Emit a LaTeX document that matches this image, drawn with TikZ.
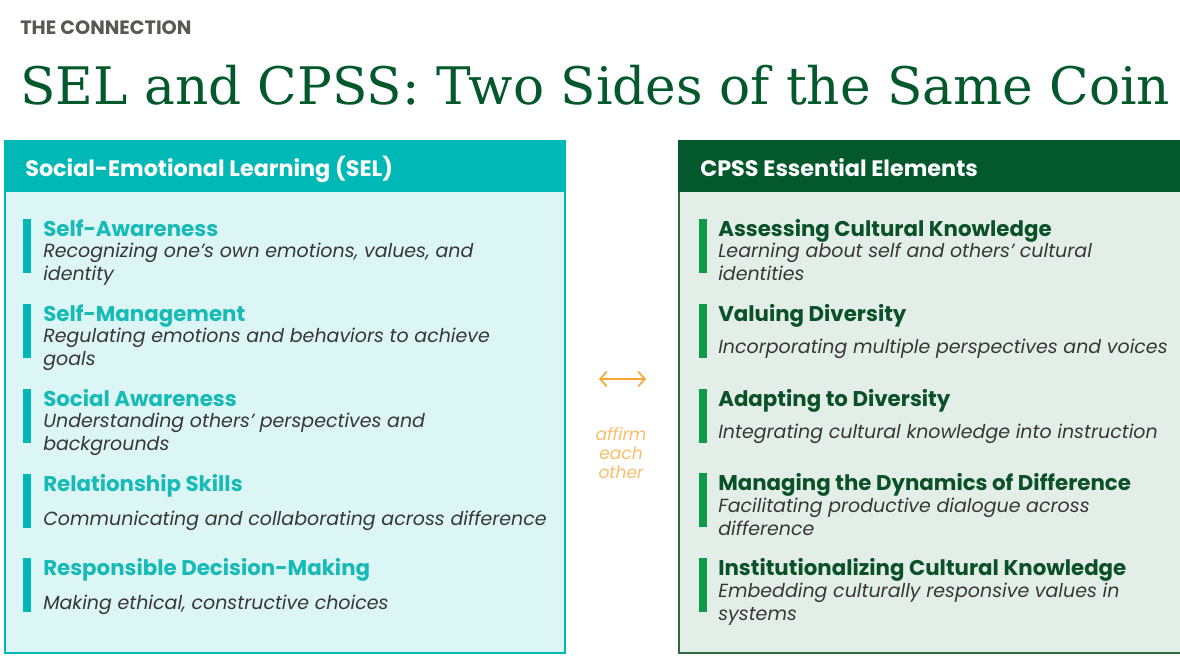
\documentclass[tikz,border=0pt]{standalone}
\usepackage{fontspec}
\setmainfont{Poppins}
\newfontfamily\headfont{DejaVu Serif}
\usetikzlibrary{arrows.meta}

\definecolor{selteal}{RGB}{0,184,181}
\definecolor{selbody}{RGB}{220,245,245}
\definecolor{seltext}{RGB}{22,186,182}
\definecolor{cpssdark}{RGB}{3,89,43}
\definecolor{cpssbody}{RGB}{228,238,232}
\definecolor{cpssline}{RGB}{46,107,67}
\definecolor{cpssbar}{RGB}{14,154,72}
\definecolor{cpsstext}{RGB}{11,81,40}
\definecolor{descgray}{RGB}{55,55,55}
\definecolor{kicker}{RGB}{90,88,84}
\definecolor{affirm}{RGB}{247,165,53}
\definecolor{affirmtext}{RGB}{250,190,105}

\newcommand{\apos}{\char"27}

\begin{document}
\begin{tikzpicture}[
        x=0.75pt, y=-0.75pt,
        panelhead/.style={
          anchor=base west,
          inner sep=0pt,
          text=white,
          font=\bfseries\fontsize{16.75}{20}\selectfont
        },
        seltitle/.style={
          anchor=base west,
          inner sep=0pt,
          text=seltext,
          font=\bfseries\fontsize{16}{19}\selectfont
        },
        cpsstitle/.style={
          seltitle,
          text=cpsstext
        },
        itemdesc/.style={
          anchor=base west,
          align=left,
          inner sep=0pt,
          text=descgray,
          font=\itshape\fontsize{14.25}{17.25}\selectfont
        }
      ]
      \useasboundingbox (0,0) rectangle (1180,656);

      % heading
      \node[anchor=base west, inner sep=0pt, text=kicker,
        font=\bfseries\fontsize{14.5}{17}\selectfont] (kick) at (20,35)
        {THE CONNECTION};
      \node[anchor=base west, inner sep=0pt, text=cpssdark,
        font=\headfont\fontsize{38.8}{46}\selectfont] (title) at (20,105)
        {SEL and CPSS: Two Sides of the Same Coin};

      % panels
      \filldraw[fill=selbody, draw=selteal, line width=1.5pt]
        (5,141) rectangle (565,653);
      \fill[selteal] (4,140) rectangle (566,192);
      \filldraw[fill=cpssbody, draw=cpssline, line width=1.5pt]
        (679,141) rectangle (1184,653);
      \fill[cpssdark] (678,140) rectangle (1184,192);

      \node[panelhead] (selhead) at (25,176) {Social-Emotional Learning (SEL)};
      \node[panelhead] (cpsshead) at (700,176) {CPSS Essential Elements};

      % SEL items (two-line texts sit on their last baseline)
      \foreach \y in {236,321,406,491,575}
        \fill[selteal] (23,\y-17) rectangle (31,\y+37);
      \node[seltitle] (aware) at (43,236) {Self-Awareness};
      \node[itemdesc] (awared) at (43,280)
        {Recognizing one\apos s own emotions, values, and\\identity};
      \node[seltitle] (manage) at (43,321) {Self-Management};
      \node[itemdesc] (managed) at (43,365)
        {Regulating emotions and behaviors to achieve\\goals};
      \node[seltitle] (social) at (43,406) {Social Awareness};
      \node[itemdesc] (sociald) at (43,450)
        {Understanding others\apos\ perspectives and\\backgrounds};
      \node[seltitle] (relate) at (43,491) {Relationship Skills};
      \node[itemdesc] (related) at (43,525)
        {Communicating and collaborating across difference};
      \node[seltitle] (decide) at (43,575) {Responsible Decision-Making};
      \node[itemdesc] (decided) at (43,609)
        {Making ethical, constructive choices};

      % CPSS items
      \foreach \y in {236,321,406,490,575}
        \fill[cpssbar] (699,\y-17) rectangle (707,\y+37);
      \node[cpsstitle] (assess) at (718,236) {Assessing Cultural Knowledge};
      \node[itemdesc] (assessd) at (718,280)
        {Learning about self and others\apos\ cultural\\identities};
      \node[cpsstitle] (value) at (718,321) {Valuing Diversity};
      \node[itemdesc] (valued) at (718,353)
        {Incorporating multiple perspectives and voices};
      \node[cpsstitle] (adapt) at (718,406) {Adapting to Diversity};
      \node[itemdesc] (adaptd) at (718,438)
        {Integrating cultural knowledge into instruction};
      \node[cpsstitle] (dynam) at (718,490) {Managing the Dynamics of Difference};
      \node[itemdesc] (dynamd) at (718,535)
        {Facilitating productive dialogue across\\difference};
      \node[cpsstitle] (instit) at (718,575) {Institutionalizing Cultural Knowledge};
      \node[itemdesc] (institd) at (718,620)
        {Embedding culturally responsive values in\\systems};

      % link between the sides
      \coordinate (arrl) at (599,379);
      \coordinate (arrr) at (646,379);
      \draw[{Straight Barb[length=5pt,width=11pt]}-{Straight Barb[length=5pt,width=11pt]},
        affirm, line width=1.2pt] (arrl) -- (arrr);
      \node[anchor=base, align=center, inner sep=0pt, text=affirmtext,
        font=\itshape\fontsize{12.8}{14.25}\selectfont] (affirmlbl) at (621,478)
        {affirm\\each\\other};
    \end{tikzpicture}
\end{document}
